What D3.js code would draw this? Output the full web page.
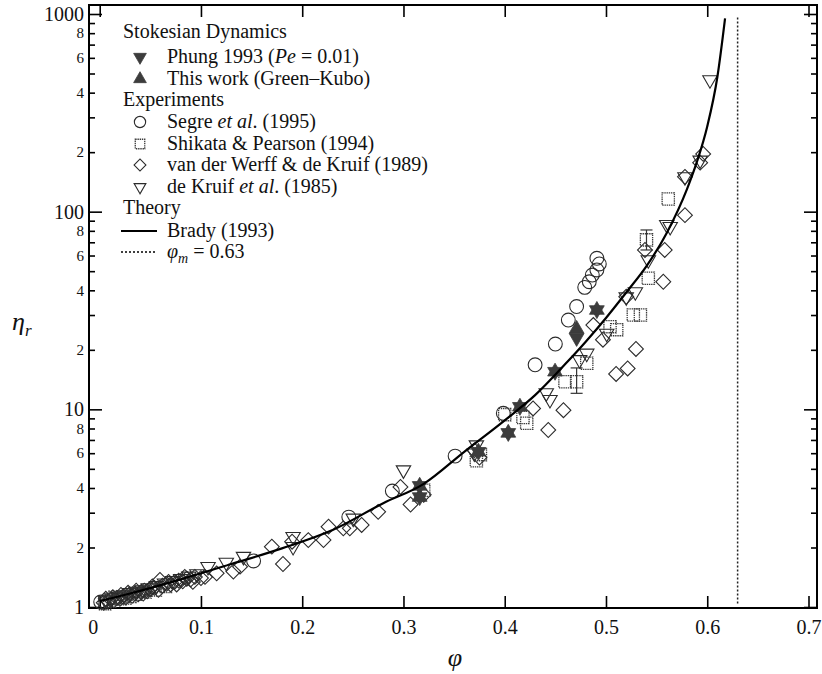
<!DOCTYPE html>
<html><head><meta charset="utf-8">
<script src="https://cdn.jsdelivr.net/npm/d3@7/dist/d3.min.js"></script>
<style>
html,body{margin:0;padding:0;background:#fff;}
svg{display:block;}
svg text{font-family:"Liberation Serif","Times New Roman",Times,"DejaVu Serif",serif;}
</style></head>
<body><svg id="c" width="822" height="674"></svg>
<script>
// ---------------- data (phi, eta_r) ----------------
const phiTicks = [0, 0.1, 0.2, 0.3, 0.4, 0.5, 0.6, 0.7];
const phiTickLabels = ["0", "0.1", "0.2", "0.3", "0.4", "0.5", "0.6", "0.7"];
const etaMajorTicks = [1, 10, 100, 1000];
const etaMinorTicks = [2,3,4,5,6,7,8,9,20,30,40,50,60,70,80,90,200,300,400,500,600,700,800,900];
const etaMinorLabeled = [2,4,6,8,20,40,60,80,200,400,600,800];
const phiM = 0.63;

const brady = [[0.00,1.07],[0.03,1.17],[0.08,1.38],[0.13,1.65],[0.18,1.98],[0.23,2.45],[0.28,3.35],
  [0.32,4.2],[0.36,6.1],[0.40,8.8],[0.43,11.8],[0.46,17],[0.48,22],[0.50,29],[0.52,39],[0.54,53],
  [0.56,78],[0.58,130],[0.59,180],[0.60,270],[0.61,480],[0.6176,950]];

const phung = [[0.316,4.1],[0.316,3.6],[0.374,6.1],[0.4035,7.6],[0.415,10.3],[0.4497,15.5],[0.471,23.0],[0.491,31.8]];
const thisWork = [[0.316,4.1],[0.316,3.6],[0.374,6.1],[0.4035,7.6],[0.415,10.3],[0.4497,15.5],[0.471,25.5],[0.491,31.8]];

const segre = [[0.001,1.06],[0.152,1.71],[0.246,2.85],[0.289,3.86],[0.351,5.8],[0.3986,9.55],[0.430,16.8],[0.450,21.4],
  [0.4628,28.3],[0.471,33.1],[0.479,41.4],[0.4835,44.2],[0.4865,47.8],[0.491,50.7],[0.4934,54.4],[0.491,58.1]];

const shikata = [[0.005,1.04],[0.01,1.07],[0.015,1.12],[0.02,1.10],[0.025,1.11],[0.03,1.13],[0.035,1.16],
  [0.045,1.19],[0.055,1.22],[0.065,1.27],[0.32,3.9],[0.372,5.5],[0.376,5.9],[0.40,9.4],[0.418,9.1],
  [0.4217,8.5],[0.4595,13.8],[0.471,13.8],[0.481,17.1],[0.504,26.2],[0.5106,25.3],[0.527,30],[0.534,30],
  [0.5418,46],[0.540,72],[0.5615,116]];
const shikataErr = [[0.471,12.05,16.2],[0.540,64,80.8]];

const vdWerff = [[0.004,1.05],[0.006,1.10],[0.008,1.07],[0.011,1.09],[0.013,1.12],[0.014,1.08],[0.017,1.11],
  [0.020,1.10],[0.021,1.15],[0.023,1.13],[0.026,1.12],[0.028,1.18],[0.029,1.15],[0.032,1.14],[0.035,1.17],
  [0.036,1.21],[0.038,1.16],[0.041,1.19],[0.043,1.17],[0.044,1.21],[0.047,1.20],[0.050,1.23],[0.052,1.27],
  [0.054,1.25],[0.058,1.22],[0.0595,1.37],[0.062,1.28],[0.066,1.31],[0.068,1.34],[0.070,1.30],[0.074,1.34],
  [0.076,1.30],[0.078,1.36],[0.082,1.35],[0.084,1.42],[0.086,1.39],[0.090,1.38],[0.092,1.34],[0.094,1.42],
  [0.100,1.40],[0.104,1.42],[0.1155,1.48],[0.132,1.51],
  [0.1386,1.60],[0.170,2.02],[0.181,1.65],[0.190,2.14],[0.206,2.18],[0.221,2.18],[0.226,2.55],[0.2406,2.50],
  [0.247,2.50],[0.2587,2.60],[0.275,3.03],[0.297,4.05],[0.307,3.3],[0.32,3.7],[0.37,6.2],[0.375,5.7],
  [0.428,10.1],[0.443,7.86],[0.458,9.9],[0.4875,26.7],[0.497,22.5],[0.510,15.1],[0.5214,16.1],[0.5296,20.2],
  [0.52,37.1],[0.5385,64],[0.5566,44.2],[0.558,64],[0.578,96],[0.578,150],[0.593,177],[0.596,196]];

const deKruif = [[0.006,1.08],[0.012,1.11],[0.018,1.13],[0.024,1.15],[0.030,1.18],[0.036,1.20],[0.042,1.22],
  [0.048,1.25],[0.056,1.28],[0.064,1.32],[0.072,1.36],[0.080,1.39],[0.088,1.43],[0.096,1.47],[0.107,1.60],
  [0.125,1.68],[0.142,1.80],[0.191,2.27],[0.191,2.02],[0.2504,2.81],[0.300,4.93],[0.37,6.0],[0.372,6.6],
  [0.441,12.1],[0.4447,11.2],[0.474,17.8],[0.481,19.2],[0.5007,24.2],[0.52,37],[0.529,39.3],[0.5418,57],
  [0.5634,84],[0.56,86],[0.578,150],[0.593,182],[0.6027,464]];

const legendLines = [
  {type:"head", parts:[["Stokesian Dynamics"]]},
  {type:"sym", sym:"tridownF", parts:[["Phung 1993 ("],["Pe","i"],[" = 0.01)"]]},
  {type:"sym", sym:"triupF", parts:[["This work (Green\u2013Kubo)"]]},
  {type:"head", parts:[["Experiments"]]},
  {type:"sym", sym:"circle", parts:[["Segre "],["et al","i"],[". (1995)"]]},
  {type:"sym", sym:"square", parts:[["Shikata & Pearson (1994)"]]},
  {type:"sym", sym:"diamond", parts:[["van der Werff & de Kruif (1989)"]]},
  {type:"sym", sym:"tridown", parts:[["de Kruif "],["et al","i"],[". (1985)"]]},
  {type:"head", parts:[["Theory"]]},
  {type:"line", dash:null, parts:[["Brady (1993)"]]},
  {type:"line", dash:"2,2", parts:[["\u03c6","i"],["m","isub"],[" = 0.63"]]}
];

// ---------------- layout ----------------
const FONT = '"Liberation Serif","Times New Roman",Times,serif';
const svg = d3.select("#c");
const X0 = 89, X1 = 817, Y0 = 5, Y1 = 608;
const x = d3.scaleLinear().domain([0, 0.7]).range([99.7, 808.5]);
const y = d3.scaleLog().domain([1, 1000]).range([607, 14]);

svg.append("rect").attr("x", X0).attr("y", Y0).attr("width", X1 - X0).attr("height", Y1 - Y0)
  .attr("fill", "none").attr("stroke", "#000").attr("stroke-width", 2);

function styleAxis(g, fs) {
  g.attr("font-family", FONT);
  g.select(".domain").remove();
  g.selectAll(".tick line").attr("stroke", "#000").attr("stroke-width", 1.6);
  g.selectAll(".tick text").attr("fill", "#111").attr("font-size", fs).attr("font-family", FONT);
}
svg.append("g").attr("transform", `translate(0,${Y1})`)
  .call(d3.axisBottom(x).tickValues(phiTicks).tickSizeInner(-12).tickSizeOuter(0).tickPadding(12)
    .tickFormat((d, i) => phiTickLabels[i]))
  .call(g => styleAxis(g, 20))
  .call(g => g.selectAll(".tick text").filter(d => d === 0).attr("dx", -7));
svg.append("g").attr("transform", `translate(0,${Y0})`)
  .call(d3.axisTop(x).tickValues(phiTicks).tickSizeInner(-12).tickSizeOuter(0).tickFormat(""))
  .call(g => styleAxis(g, 20));
svg.append("g").attr("transform", `translate(${X0},0)`)
  .call(d3.axisLeft(y).tickValues(etaMajorTicks).tickSizeInner(-13).tickSizeOuter(0).tickPadding(5)
    .tickFormat(d3.format("d")))
  .call(g => styleAxis(g, 20));
svg.append("g").attr("transform", `translate(${X0},0)`)
  .call(d3.axisLeft(y).tickValues(etaMinorTicks).tickSizeInner(-6).tickSizeOuter(0).tickPadding(5)
    .tickFormat(d => etaMinorLabeled.includes(d) ? String(d).charAt(0) : ""))
  .call(g => styleAxis(g, 15));
svg.append("g").attr("transform", `translate(${X1},0)`)
  .call(d3.axisRight(y).tickValues(etaMajorTicks).tickSizeInner(-13).tickSizeOuter(0).tickFormat(""))
  .call(g => styleAxis(g, 15));
svg.append("g").attr("transform", `translate(${X1},0)`)
  .call(d3.axisRight(y).tickValues(etaMinorTicks).tickSizeInner(-6).tickSizeOuter(0).tickFormat(""))
  .call(g => styleAxis(g, 15));

const yt = svg.append("text").attr("x", 12).attr("y", 330).attr("font-size", 26)
  .attr("font-family", FONT).attr("fill", "#111");
yt.append("tspan").attr("font-style", "italic").text("\u03b7");
yt.append("tspan").attr("font-style", "italic").attr("font-size", 17).attr("dy", 6).text("r");
svg.append("text").attr("x", 455).attr("y", 666).attr("text-anchor", "middle").attr("font-family", FONT)
  .attr("font-size", 26).attr("font-style", "italic").attr("fill", "#111").text("\u03c6");

svg.append("line").attr("x1", x(phiM)).attr("x2", x(phiM)).attr("y1", y(960)).attr("y2", y(1.04))
  .attr("stroke", "#222").attr("stroke-width", 1.5).attr("stroke-dasharray", "2,2");

const SYM = {
  circle: {type: d3.symbolCircle, rot: 0},
  square: {type: d3.symbolSquare, rot: 0},
  diamond: {type: d3.symbolSquare, rot: 45},
  tridown: {type: d3.symbolTriangle, rot: 180},
  tridownF: {type: d3.symbolTriangle, rot: 180},
  triupF: {type: d3.symbolTriangle, rot: 0}
};
function drawSeries(data, key, size, style) {
  const gen = d3.symbol().type(SYM[key].type).size(size);
  svg.append("g").selectAll("path").data(data).join("path")
    .attr("d", gen())
    .attr("transform", d => `translate(${x(d[0])},${y(d[1])}) rotate(${SYM[key].rot})`)
    .attr("fill", style.fill).attr("stroke", style.stroke).attr("stroke-width", style.sw)
    .attr("stroke-dasharray", style.dash || null);
}
const openStyle = {fill: "none", stroke: "#2b2b2b", sw: 1.1};
const sqStyle = {fill: "none", stroke: "#3a3a3a", sw: 1.3, dash: "1.4,0.8"};
const filledStyle = {fill: "#3c3c3c", stroke: "#3c3c3c", sw: 0.8};

drawSeries(vdWerff, "diamond", 110, openStyle);
drawSeries(deKruif, "tridown", 90, openStyle);
drawSeries(segre, "circle", 150, openStyle);
drawSeries(shikata, "square", 150, sqStyle);
const eb = svg.append("g").attr("stroke", "#333").attr("stroke-width", 1.2);
shikataErr.forEach(d => {
  eb.append("line").attr("x1", x(d[0])).attr("x2", x(d[0])).attr("y1", y(d[1])).attr("y2", y(d[2]));
  [d[1], d[2]].forEach(v => eb.append("line").attr("x1", x(d[0]) - 6).attr("x2", x(d[0]) + 6)
    .attr("y1", y(v)).attr("y2", y(v)));
});
drawSeries(phung, "tridownF", 95, filledStyle);
drawSeries(thisWork, "triupF", 95, filledStyle);

svg.append("path").datum(brady)
  .attr("d", d3.line().x(d => x(d[0])).y(d => y(d[1])).curve(d3.curveMonotoneX))
  .attr("fill", "none").attr("stroke", "#000").attr("stroke-width", 2.2);

const lg = svg.append("g");
const baselines = [38, 63, 85, 106, 128, 150, 171, 193, 214, 237, 258];
legendLines.forEach((L, i) => {
  const by = baselines[i];
  const tx = L.type === "head" ? 123 : 167;
  const t = lg.append("text").attr("x", tx).attr("y", by).attr("font-size", 20)
    .attr("font-family", FONT).attr("fill", "#111");
  let sub = false;
  L.parts.forEach(p => {
    const s = t.append("tspan").text(p[0]);
    if (p[1] === "i") s.attr("font-style", "italic");
    if (p[1] === "isub") { s.attr("font-style", "italic").attr("font-size", 14).attr("dy", 5); sub = true; }
    else if (sub) { s.attr("dy", -5); sub = false; }
  });
  const cy = by - 6;
  if (L.type === "sym") {
    const st = L.sym === "square" ? sqStyle : (L.sym.endsWith("F") ? filledStyle : openStyle);
    const sz = {circle: 100, square: 90, diamond: 70, tridown: 60, tridownF: 70, triupF: 70}[L.sym];
    lg.append("path").attr("d", d3.symbol().type(SYM[L.sym].type).size(sz)())
      .attr("transform", `translate(140,${cy}) rotate(${SYM[L.sym].rot})`)
      .attr("fill", st.fill).attr("stroke", st.stroke).attr("stroke-width", st.sw)
      .attr("stroke-dasharray", st.dash || null);
  } else if (L.type === "line") {
    lg.append("line").attr("x1", 121).attr("x2", 157).attr("y1", cy).attr("y2", cy)
      .attr("stroke", "#000").attr("stroke-width", L.dash ? 1.3 : 2)
      .attr("stroke-dasharray", L.dash);
  }
});
</script></body></html>
